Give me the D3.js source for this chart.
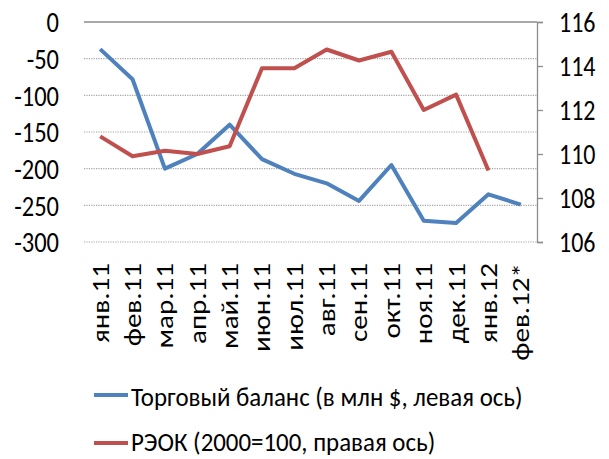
<!DOCTYPE html>
<html><head><meta charset="utf-8">
<script src="https://cdn.jsdelivr.net/npm/d3@7"></script>
<style>body{margin:0;background:#fff}svg{display:block}text{font-family:Carlito,Calibri,"Liberation Sans Narrow","Open Sans",sans-serif;fill:#000}</style>
</head><body><svg id="c" width="609" height="459"></svg>
<script>
const categories = ["янв.11","фев.11","мар.11","апр.11","май.11","июн.11","июл.11","авг.11","сен.11","окт.11","ноя.11","дек.11","янв.12","фев.12*"];
const tradeBalance = [-37,-78,-200,-180,-140,-187,-207,-220,-244,-195,-271,-274,-235,-249];
const reok = [110.8,109.9,110.15,110.0,110.35,113.9,113.9,114.75,114.25,114.65,112.0,112.7,109.25,null];
const leftTicks = [0,-50,-100,-150,-200,-250,-300];
const rightTicks = [106,108,110,112,114,116];
const seriesNames = ["Торговый баланс (в млн $, левая ось)","РЭОК (2000=100, правая ось)"];
const colors = ["#4F81BD","#C0504D"];

const svg = d3.select("#c");
const L=84, R=537, T=22, B=242;
const AX_FS=24.5, AX_VS=1.2, XL_FS=24, XL_S=1.21, LG_FS=24.9, LG_VS=1.1;
const x = d3.scaleBand().domain(categories).range([L,R]);
const yL = d3.scaleLinear().domain([-300,0]).range([B,T]);
const yR = d3.scaleLinear().domain([106,116]).range([B,T]);

// gridlines
svg.append("g").selectAll("line").data(leftTicks).join("line")
  .attr("x1",L).attr("x2",R).attr("y1",d=>yL(d)).attr("y2",d=>yL(d))
  .attr("stroke",d=>d===0?"#8c8c8c":"#a6a6a6").attr("stroke-width",d=>d===0?1.3:1.2)
  .attr("stroke-dasharray",d=>d===0?null:"1.2,1.2");

// left axis labels
svg.append("g").selectAll("text").data(leftTicks).join("text")
  .attr("transform",d=>`translate(59,${yL(d)}) scale(1,${AX_VS})`)
  .attr("text-anchor","end").attr("dy","0.35em").attr("font-size",AX_FS).text(d=>d);

// right axis
const ra = svg.append("g").attr("transform",`translate(${R},0)`).call(d3.axisRight(yR).tickValues(rightTicks).tickSize(6).tickFormat(""));
ra.select(".domain").attr("stroke","#8c8c8c").attr("stroke-width",1.3);
ra.selectAll(".tick line").attr("stroke","#8c8c8c").attr("stroke-width",1.3);
svg.append("g").selectAll("text").data(rightTicks).join("text")
  .attr("transform",d=>`translate(559,${yR(d)}) scale(1,${AX_VS})`)
  .attr("dy","0.35em").attr("font-size",24).text(d=>d);

// x labels
svg.append("g").selectAll("text").data(categories).join("text")
  .attr("transform",d=>`translate(${x(d)+x.bandwidth()/2},263) rotate(-90) scale(${XL_S},1)`)
  .attr("text-anchor","end").attr("dy","0.35em").attr("font-size",XL_FS).text(d=>d);

// lines
const lineL = d3.line().x((d,i)=>x(categories[i])+x.bandwidth()/2).y(d=>yL(d));
const lineR = d3.line().defined(d=>d!=null).x((d,i)=>x(categories[i])+x.bandwidth()/2).y(d=>yR(d));
svg.append("path").datum(tradeBalance).attr("d",lineL).attr("fill","none").attr("stroke",colors[0]).attr("stroke-width",4).attr("stroke-linejoin","round");
svg.append("path").datum(reok).attr("d",lineR).attr("fill","none").attr("stroke",colors[1]).attr("stroke-width",4).attr("stroke-linejoin","round");

// legend
const ly=[395,443], lb=[406,451];
const lg = svg.append("g").selectAll("g").data(seriesNames).join("g");
lg.append("line").attr("x1",94).attr("x2",128).attr("y1",(d,i)=>ly[i]).attr("y2",(d,i)=>ly[i])
  .attr("stroke",(d,i)=>colors[i]).attr("stroke-width",4);
lg.append("text").attr("transform",(d,i)=>`translate(131,${lb[i]}) scale(1,${LG_VS})`)
  .attr("font-size",LG_FS).text(d=>d);
</script></body></html>
